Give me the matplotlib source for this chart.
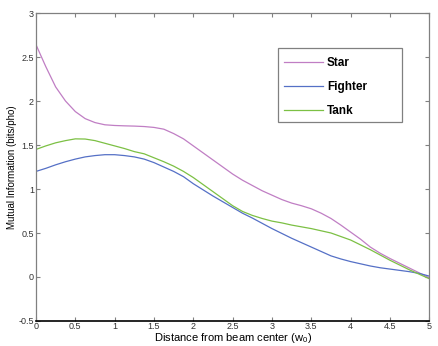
import numpy as np
import matplotlib
matplotlib.use('Agg')
import matplotlib.pyplot as plt
from matplotlib.patches import Rectangle

plt.rcParams['font.family'] = ['Liberation Sans', 'DejaVu Sans']
plt.rcParams['mathtext.default'] = 'regular'

# 数据，x 每 0.125 一个点
x = np.linspace(0, 5, 41)
star = [2.64, 2.39, 2.16, 2.00, 1.88, 1.80, 1.755, 1.73, 1.722, 1.718,
        1.715, 1.71, 1.70, 1.68, 1.63, 1.57, 1.49, 1.41, 1.33, 1.25,
        1.17, 1.10, 1.04, 0.98, 0.93, 0.88, 0.84, 0.81, 0.775, 0.725,
        0.665, 0.59, 0.51, 0.43, 0.34, 0.27, 0.21, 0.155, 0.10, 0.045, -0.01]
fighter = [1.20, 1.235, 1.275, 1.31, 1.34, 1.365, 1.38, 1.39, 1.39, 1.38,
           1.365, 1.34, 1.30, 1.25, 1.20, 1.14, 1.06, 0.99, 0.92, 0.855,
           0.79, 0.725, 0.67, 0.61, 0.55, 0.495, 0.44, 0.39, 0.34, 0.29,
           0.24, 0.205, 0.175, 0.15, 0.125, 0.105, 0.09, 0.075, 0.06, 0.04, 0.01]
tank = [1.45, 1.49, 1.525, 1.55, 1.57, 1.568, 1.55, 1.52, 1.49, 1.46,
        1.425, 1.40, 1.355, 1.31, 1.26, 1.20, 1.13, 1.05, 0.97, 0.89,
        0.81, 0.745, 0.70, 0.665, 0.635, 0.615, 0.59, 0.57, 0.55, 0.525,
        0.50, 0.46, 0.42, 0.365, 0.31, 0.25, 0.19, 0.135, 0.08, 0.03, -0.02]

xticks = [0, 0.5, 1, 1.5, 2, 2.5, 3, 3.5, 4, 4.5, 5]
yticks = [-0.5, 0, 0.5, 1, 1.5, 2, 2.5, 3]

fig = plt.figure(figsize=(4.39, 3.46), dpi=100)
ax = fig.add_axes([0.082, 0.0723, 0.896, 0.890])

ax.plot(x, star, color='#c07ec4', lw=0.9, label='Star')
ax.plot(x, fighter, color='#5570c6', lw=0.9, label='Fighter')
ax.plot(x, tank, color='#7cc044', lw=0.9, label='Tank')

ax.set_xlim(0, 5)
ax.set_ylim(-0.5, 3)
ax.set_xticks(xticks)
ax.set_yticks(yticks)
ax.set_xticklabels(['0', '0.5', '1', '1.5', '2', '2.5', '3', '3.5', '4', '4.5', '5'])
ax.set_yticklabels(['-0.5', '0', '0.5', '1', '1.5', '2', '2.5', '3'])

for s in ['left', 'right', 'top']:
    ax.spines[s].set_color('#808080')
    ax.spines[s].set_linewidth(0.9)
ax.spines['bottom'].set_color('black')
ax.spines['bottom'].set_linewidth(1.2)

ax.tick_params(direction='in', length=3, width=0.8, color='#808080',
               labelsize=6.5, labelcolor='#333333', top=True, right=True)
ax.tick_params(axis='x', pad=1)
ax.tick_params(axis='y', pad=1.5)

ax.set_xlabel('Distance from beam center (w$_0$)', fontsize=8, labelpad=0)
ax.set_ylabel('Mutual Information (bits/pho)', fontsize=7, labelpad=1)

# 图例外框（手动画）
box = Rectangle((0.634, 0.6465), 0.2825, 0.2139, transform=fig.transFigure,
                facecolor='white', edgecolor='#808080', lw=0.9, zorder=4)
ax.add_patch(box)
leg = ax.legend(loc='upper left', bbox_to_anchor=(0.647, 0.834),
                bbox_transform=fig.transFigure, frameon=False,
                handlelength=3.3, handletextpad=0.34, labelspacing=1.0,
                borderpad=0, borderaxespad=0,
                prop={'weight': 'bold', 'size': 8.5})
leg.set_zorder(5)

fig.savefig('out.png', dpi=100)
